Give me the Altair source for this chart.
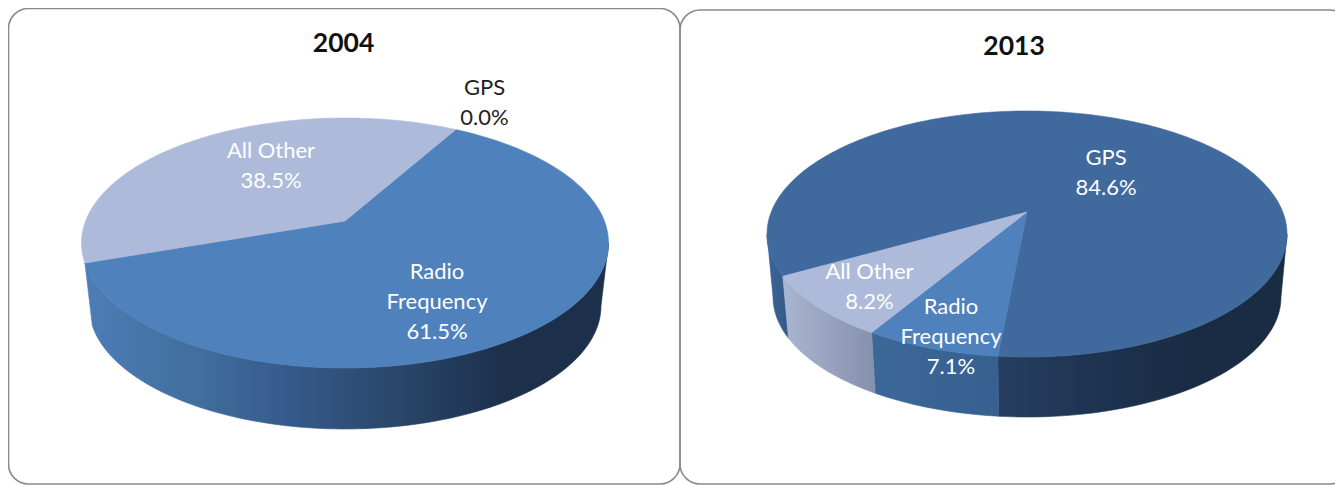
import math
import altair as alt
import pandas as pd

# ---- chart values ----
CATEGORIES = ["GPS", "Radio\nFrequency", "All Other"]
YEARS = ["2004", "2013"]
SHARES_2004 = [0.0, 61.5, 38.5]
SHARES_2013 = [84.6, 7.1, 8.2]

# ---- layout and style ----
W, H = 1327, 477
XDOM, YDOM = [8, 1335], [485, 8]
FONT = "Lato"
TOP_COL = {"GPS": "#40699e", "Radio\nFrequency": "#4f81bd", "All Other": "#adbada"}


def grad(*cols):
    n = len(cols) - 1
    return alt.Gradient(
        gradient="linear", x1=0, x2=1, y1=0, y2=0,
        stops=[alt.GradientStop(offset=i / n, color=c) for i, c in enumerate(cols)],
    )


PIES = [
    dict(shares=SHARES_2004, start=29.5,
         top=(345, 243, 263.5, 125), bottom=(345, 306, 256, 123), d=-0.176,
         walls={"Radio\nFrequency": [grad("#4c7db5", "#41709f", "#35598a", "#2a4669", "#1c304c", "#1c304c")]},
         skip=["All Other"]),
    dict(shares=SHARES_2013, start=240.5,
         top=(1027, 234, 260, 123), bottom=(1027, 297, 254, 120), d=-0.179,
         walls={"GPS": [grad("#3a6697", "#33598a"), grad("#263f61", "#1d3350", "#1a2c44", "#1a2c44")],
                "Radio\nFrequency": [grad("#3c6899", "#35608f")],
                "All Other": [grad("#aab5d0", "#8591ac")]},
         skip=[]),
]

TITLES = [(YEARS[0], 343.5, 44), (YEARS[1], 1014, 47)]
LABEL_POS = [
    [(484.5, 88, "#222222"), (437, 272, "#ffffff"), (271, 151, "#ffffff")],
    [(1106, 158, "#ffffff"), (951, 307, "#ffffff"), (869.5, 272, "#ffffff")],
]
PANELS = [(8.5, 680, 8.5, 484), (680, 1350, 10, 484)]

XS = alt.X("x:Q", scale=alt.Scale(domain=XDOM, nice=False, zero=False), axis=None)
YS = alt.Y("y:Q", scale=alt.Scale(domain=YDOM, nice=False, zero=False), axis=None)


def rim(theta, ell, d):
    cx, cy, rx, ry = ell
    t = math.radians(theta)
    x, y = math.sin(t), -math.cos(t)
    den = 1 + y * d
    return cx + rx * x * math.sqrt(1 - d * d) / den, cy + ry * (y + d) / den


def arc_angles(a, b):
    n = max(2, int(abs(b - a) / 1.5) + 2)
    return [a + (b - a) * i / (n - 1) for i in range(n)]


def poly(points, fill):
    df = pd.DataFrame([{"x": p[0], "y": p[1], "i": i} for i, p in enumerate(points + points[:1])])
    return (
        alt.Chart(df)
        .mark_line(fill=fill, stroke=fill, strokeWidth=0.6, interpolate="linear")
        .encode(x=XS, y=YS, order="i:Q")
    )


walls, tops = [], []
for pie in PIES:
    total = sum(pie["shares"])
    d = pie["d"]
    vis = math.degrees(math.acos(d))           # angle where the rim is widest
    vis_lo, vis_hi = vis, 360 - vis
    a = pie["start"]
    for cat, share in zip(CATEGORIES, pie["shares"]):
        b = a + share / total * 360
        if share > 0:
            vx = pie["top"][0]
            vy = pie["top"][1] + pie["top"][3] * d
            pts = [(vx, vy)] + [rim(t, pie["top"], d) for t in arc_angles(a, b)]
            tops.append(poly(pts, TOP_COL[cat]))
            if cat not in pie["skip"]:
                fills = list(pie["walls"][cat])
                for off in (0, 360, -360):
                    lo, hi = max(a - off, vis_lo), min(b - off, vis_hi)
                    if hi > lo and fills:
                        ts = arc_angles(lo, hi)
                        up = [rim(t, pie["top"], d) for t in ts]
                        dn = [rim(t, pie["bottom"], d) for t in reversed(ts)]
                        walls.append(poly(up + dn, fills.pop(0)))
        a = b

panels = [
    alt.Chart(pd.DataFrame([{"x": p[0], "x2": p[1], "y": p[2], "y2": p[3]}]))
    .mark_rect(cornerRadius=20, fill="transparent", stroke="#8a8a8a", strokeWidth=1.6)
    .encode(x=XS, x2="x2:Q", y=YS, y2="y2:Q")
    for p in PANELS
]

text_rows = []
for pie, year_pos in zip(PIES, LABEL_POS):
    for cat, share, pos in zip(CATEGORIES, pie["shares"], year_pos):
        text_rows.append({"x": pos[0], "y": pos[1], "col": pos[2],
                          "t": f"{cat}\n{share:.1f}%"})
labels = (
    alt.Chart(pd.DataFrame(text_rows))
    .mark_text(font=FONT, fontSize=22, lineBreak="\n", lineHeight=30, align="center", baseline="middle")
    .encode(x=XS, y=YS, text="t:N", color=alt.Color("col:N", scale=None))
)
titles = (
    alt.Chart(pd.DataFrame([{"t": t[0], "x": t[1], "y": t[2]} for t in TITLES]))
    .mark_text(font=FONT, fontSize=26.5, fontWeight="bold", color="#111111", align="center", baseline="middle")
    .encode(x=XS, y=YS, text="t:N")
)

chart = (
    alt.layer(*panels, *walls, *tops, labels, titles)
    .properties(width=W, height=H, padding=0, autosize=alt.AutoSizeParams(type="none"), background="white")
    .configure_view(stroke=None)
)
chart.save("out.html", embed_options={"renderer": "svg", "actions": False})
